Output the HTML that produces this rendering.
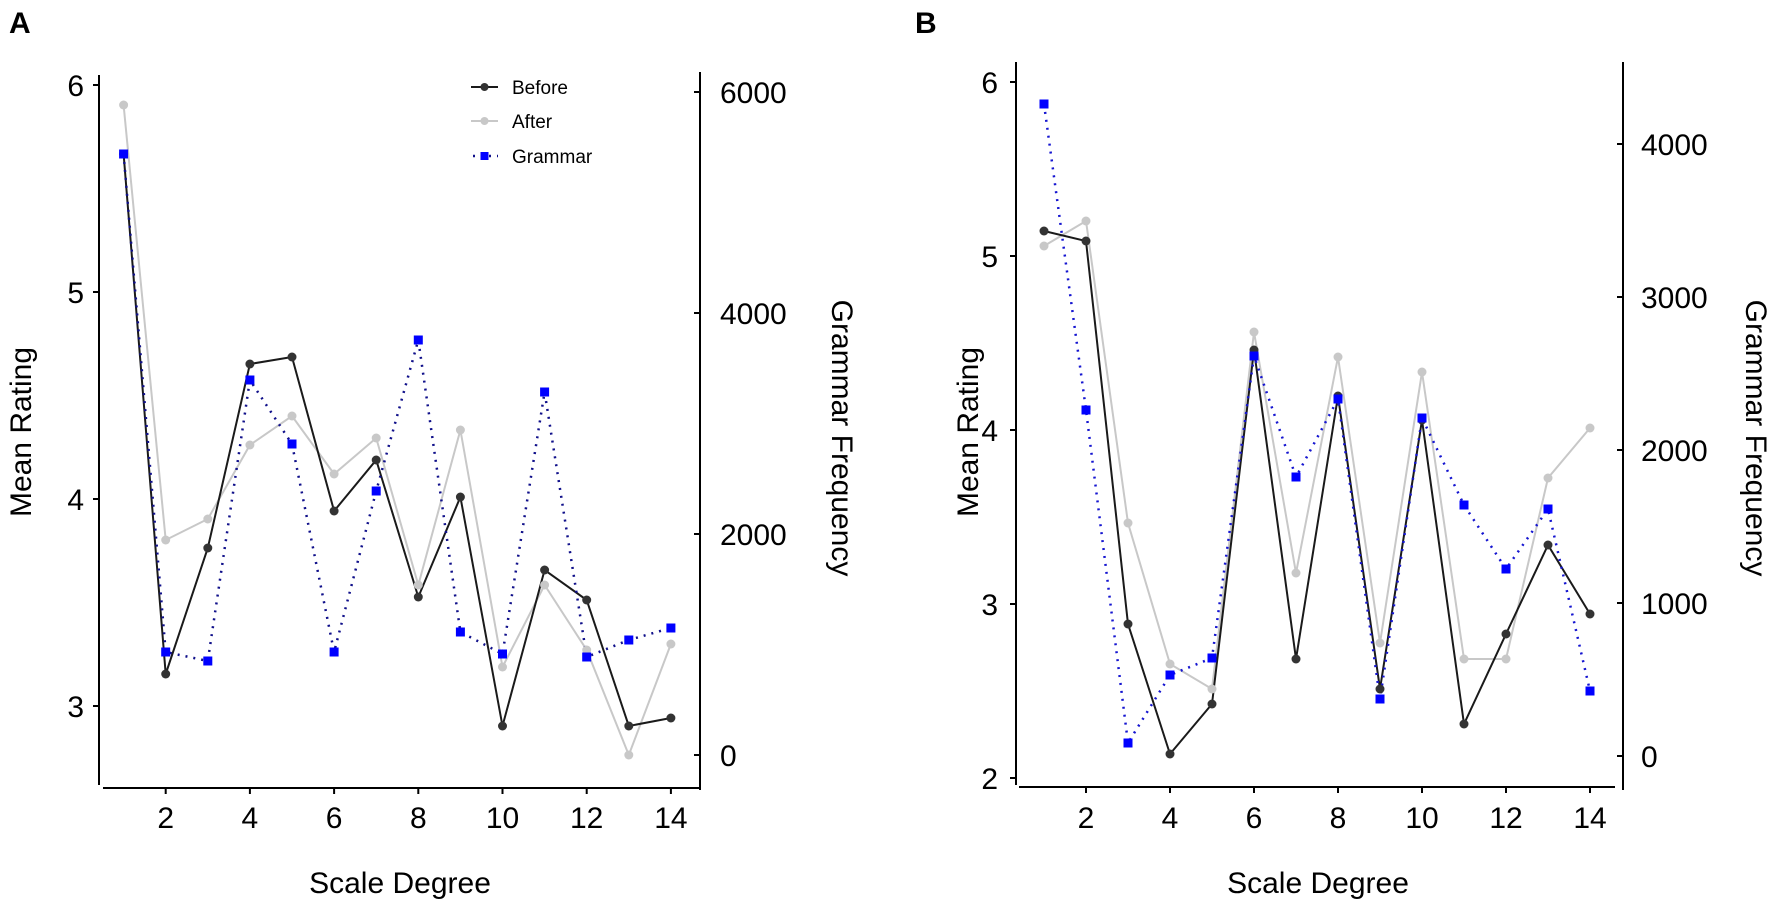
<!DOCTYPE html>
<html><head><meta charset="utf-8"><style>
html,body{margin:0;padding:0;background:#fff;}
svg{display:block;font-family:"Liberation Sans",Arial,sans-serif;}
</style></head><body>
<svg width="1771" height="907" viewBox="0 0 1771 907" xmlns="http://www.w3.org/2000/svg">
<!-- Panel letters -->
<text x="9" y="33" font-size="30" font-weight="bold">A</text>
<text x="915" y="33" font-size="30" font-weight="bold">B</text>

<!-- ===== Panel A axes ===== -->
<g stroke="#000" stroke-width="2" fill="none">
<line x1="99" y1="75" x2="99" y2="785"/>
<line x1="700" y1="72" x2="700" y2="790"/>
<line x1="103" y1="788" x2="700" y2="788"/>
<!-- left ticks -->
<line x1="93" y1="85" x2="99" y2="85"/><line x1="93" y1="292" x2="99" y2="292"/>
<line x1="93" y1="499" x2="99" y2="499"/><line x1="93" y1="706" x2="99" y2="706"/>
<!-- right ticks -->
<line x1="694" y1="92" x2="700" y2="92"/><line x1="694" y1="313" x2="700" y2="313"/>
<line x1="694" y1="534" x2="700" y2="534"/><line x1="694" y1="755" x2="700" y2="755"/>
<!-- x ticks -->
<line x1="165.7" y1="788" x2="165.7" y2="794"/><line x1="249.9" y1="788" x2="249.9" y2="794"/>
<line x1="334.1" y1="788" x2="334.1" y2="794"/><line x1="418.3" y1="788" x2="418.3" y2="794"/>
<line x1="502.5" y1="788" x2="502.5" y2="794"/><line x1="586.7" y1="788" x2="586.7" y2="794"/>
<line x1="670.9" y1="788" x2="670.9" y2="794"/>
</g>
<g font-size="30" fill="#000">
<text x="84" y="96" text-anchor="end">6</text><text x="84" y="303" text-anchor="end">5</text>
<text x="84" y="510" text-anchor="end">4</text><text x="84" y="717" text-anchor="end">3</text>
<text x="720" y="103">6000</text><text x="720" y="324">4000</text>
<text x="720" y="545">2000</text><text x="720" y="766">0</text>
<g text-anchor="middle">
<text x="165.7" y="828">2</text><text x="249.9" y="828">4</text><text x="334.1" y="828">6</text>
<text x="418.3" y="828">8</text><text x="502.5" y="828">10</text><text x="586.7" y="828">12</text>
<text x="670.9" y="828">14</text>
<text x="400" y="893">Scale Degree</text>
<text transform="translate(31,432) rotate(-90)">Mean Rating</text>
<text transform="translate(832,438) rotate(90)">Grammar Frequency</text>
</g>
</g>

<!-- Panel A series -->
<polyline fill="none" stroke="#c8c8c8" stroke-width="2" points="123.6,105 165.7,540 207.8,519 249.9,445 292,416 334.1,474 376.2,438 418.3,585 460.4,430 502.5,667 544.6,585 586.7,650 628.8,755 670.9,644"/>
<polyline fill="none" stroke="#1a1a1a" stroke-width="2" points="123.6,154 165.7,674 207.8,548 249.9,364 292,357 334.1,511 376.2,460 418.3,597 460.4,497 502.5,726 544.6,570 586.7,600 628.8,726 670.9,718"/>
<polyline fill="none" stroke="#10108a" stroke-width="2.5" stroke-dasharray="2 6" points="123.6,154 165.7,652 207.8,661 249.9,380 292,444 334.1,652 376.2,491 418.3,340 460.4,632 502.5,654 544.6,392 586.7,657 628.8,640 670.9,628"/>
<g fill="#c8c8c8">
<circle cx="123.6" cy="105" r="4.5"/><circle cx="165.7" cy="540" r="4.5"/><circle cx="207.8" cy="519" r="4.5"/><circle cx="249.9" cy="445" r="4.5"/><circle cx="292" cy="416" r="4.5"/><circle cx="334.1" cy="474" r="4.5"/><circle cx="376.2" cy="438" r="4.5"/><circle cx="418.3" cy="585" r="4.5"/><circle cx="460.4" cy="430" r="4.5"/><circle cx="502.5" cy="667" r="4.5"/><circle cx="544.6" cy="585" r="4.5"/><circle cx="586.7" cy="650" r="4.5"/><circle cx="628.8" cy="755" r="4.5"/><circle cx="670.9" cy="644" r="4.5"/>
</g>
<g fill="#333">
<circle cx="123.6" cy="154" r="4.5"/><circle cx="165.7" cy="674" r="4.5"/><circle cx="207.8" cy="548" r="4.5"/><circle cx="249.9" cy="364" r="4.5"/><circle cx="292" cy="357" r="4.5"/><circle cx="334.1" cy="511" r="4.5"/><circle cx="376.2" cy="460" r="4.5"/><circle cx="418.3" cy="597" r="4.5"/><circle cx="460.4" cy="497" r="4.5"/><circle cx="502.5" cy="726" r="4.5"/><circle cx="544.6" cy="570" r="4.5"/><circle cx="586.7" cy="600" r="4.5"/><circle cx="628.8" cy="726" r="4.5"/><circle cx="670.9" cy="718" r="4.5"/>
</g>
<g fill="#0000ff">
<rect x="119.1" y="149.5" width="9" height="9"/><rect x="161.2" y="647.5" width="9" height="9"/><rect x="203.3" y="656.5" width="9" height="9"/><rect x="245.4" y="375.5" width="9" height="9"/><rect x="287.5" y="439.5" width="9" height="9"/><rect x="329.6" y="647.5" width="9" height="9"/><rect x="371.7" y="486.5" width="9" height="9"/><rect x="413.8" y="335.5" width="9" height="9"/><rect x="455.9" y="627.5" width="9" height="9"/><rect x="498" y="649.5" width="9" height="9"/><rect x="540.1" y="387.5" width="9" height="9"/><rect x="582.2" y="652.5" width="9" height="9"/><rect x="624.3" y="635.5" width="9" height="9"/><rect x="666.4" y="623.5" width="9" height="9"/>
</g>

<!-- Legend -->
<g>
<line x1="471" y1="87" x2="498" y2="87" stroke="#1a1a1a" stroke-width="2"/><circle cx="484.5" cy="87" r="4" fill="#333"/>
<line x1="471" y1="121" x2="498" y2="121" stroke="#c8c8c8" stroke-width="2"/><circle cx="484.5" cy="121" r="4" fill="#c8c8c8"/>
<line x1="473" y1="156" x2="498" y2="156" stroke="#10108a" stroke-width="2.5" stroke-dasharray="2 6"/><rect x="480.5" y="152" width="8" height="8" fill="#0000ff"/>
<g font-size="19"><text x="512" y="94">Before</text><text x="512" y="128">After</text><text x="512" y="163">Grammar</text></g>
</g>

<!-- ===== Panel B axes ===== -->
<g stroke="#000" stroke-width="2" fill="none">
<line x1="1016" y1="62" x2="1016" y2="785"/>
<line x1="1623" y1="62" x2="1623" y2="790"/>
<line x1="1019" y1="787" x2="1615" y2="787"/>
<line x1="1010" y1="82" x2="1016" y2="82"/><line x1="1010" y1="256" x2="1016" y2="256"/>
<line x1="1010" y1="430" x2="1016" y2="430"/><line x1="1010" y1="604" x2="1016" y2="604"/>
<line x1="1010" y1="778" x2="1016" y2="778"/>
<line x1="1617" y1="144" x2="1623" y2="144"/><line x1="1617" y1="297" x2="1623" y2="297"/>
<line x1="1617" y1="450" x2="1623" y2="450"/><line x1="1617" y1="603" x2="1623" y2="603"/>
<line x1="1617" y1="756" x2="1623" y2="756"/>
<line x1="1086" y1="787" x2="1086" y2="793"/><line x1="1170" y1="787" x2="1170" y2="793"/>
<line x1="1254" y1="787" x2="1254" y2="793"/><line x1="1338" y1="787" x2="1338" y2="793"/>
<line x1="1422" y1="787" x2="1422" y2="793"/><line x1="1506" y1="787" x2="1506" y2="793"/>
<line x1="1590" y1="787" x2="1590" y2="793"/>
</g>
<g font-size="30" fill="#000">
<text x="998" y="93" text-anchor="end">6</text><text x="998" y="267" text-anchor="end">5</text>
<text x="998" y="441" text-anchor="end">4</text><text x="998" y="615" text-anchor="end">3</text>
<text x="998" y="789" text-anchor="end">2</text>
<text x="1641" y="155">4000</text><text x="1641" y="308">3000</text><text x="1641" y="461">2000</text>
<text x="1641" y="614">1000</text><text x="1641" y="767">0</text>
<g text-anchor="middle">
<text x="1086" y="828">2</text><text x="1170" y="828">4</text><text x="1254" y="828">6</text>
<text x="1338" y="828">8</text><text x="1422" y="828">10</text><text x="1506" y="828">12</text>
<text x="1590" y="828">14</text>
<text x="1318" y="893">Scale Degree</text>
<text transform="translate(978,432) rotate(-90)">Mean Rating</text>
<text transform="translate(1746,438) rotate(90)">Grammar Frequency</text>
</g>
</g>

<!-- Panel B series -->
<polyline fill="none" stroke="#c8c8c8" stroke-width="2" points="1044,246 1086,221 1128,523 1170,664 1212,689 1254,332 1296,573 1338,357 1380,643 1422,372 1464,659 1506,659 1548,478 1590,428"/>
<polyline fill="none" stroke="#1a1a1a" stroke-width="2" points="1044,231 1086,241 1128,624 1170,754 1212,704 1254,350 1296,659 1338,396 1380,689 1422,420 1464,724 1506,634 1548,545 1590,614"/>
<polyline fill="none" stroke="#1515d0" stroke-width="2.5" stroke-dasharray="2 6" points="1044,104 1086,410 1128,743 1170,675 1212,658 1254,356 1296,477 1338,399 1380,699 1422,418 1464,505 1506,569 1548,509 1590,691"/>
<g fill="#c8c8c8">
<circle cx="1044" cy="246" r="4.5"/><circle cx="1086" cy="221" r="4.5"/><circle cx="1128" cy="523" r="4.5"/><circle cx="1170" cy="664" r="4.5"/><circle cx="1212" cy="689" r="4.5"/><circle cx="1254" cy="332" r="4.5"/><circle cx="1296" cy="573" r="4.5"/><circle cx="1338" cy="357" r="4.5"/><circle cx="1380" cy="643" r="4.5"/><circle cx="1422" cy="372" r="4.5"/><circle cx="1464" cy="659" r="4.5"/><circle cx="1506" cy="659" r="4.5"/><circle cx="1548" cy="478" r="4.5"/><circle cx="1590" cy="428" r="4.5"/>
</g>
<g fill="#333">
<circle cx="1044" cy="231" r="4.5"/><circle cx="1086" cy="241" r="4.5"/><circle cx="1128" cy="624" r="4.5"/><circle cx="1170" cy="754" r="4.5"/><circle cx="1212" cy="704" r="4.5"/><circle cx="1254" cy="350" r="4.5"/><circle cx="1296" cy="659" r="4.5"/><circle cx="1338" cy="396" r="4.5"/><circle cx="1380" cy="689" r="4.5"/><circle cx="1422" cy="420" r="4.5"/><circle cx="1464" cy="724" r="4.5"/><circle cx="1506" cy="634" r="4.5"/><circle cx="1548" cy="545" r="4.5"/><circle cx="1590" cy="614" r="4.5"/>
</g>
<g fill="#0000ff">
<rect x="1039.5" y="99.5" width="9" height="9"/><rect x="1081.5" y="405.5" width="9" height="9"/><rect x="1123.5" y="738.5" width="9" height="9"/><rect x="1165.5" y="670.5" width="9" height="9"/><rect x="1207.5" y="653.5" width="9" height="9"/><rect x="1249.5" y="351.5" width="9" height="9"/><rect x="1291.5" y="472.5" width="9" height="9"/><rect x="1333.5" y="394.5" width="9" height="9"/><rect x="1375.5" y="694.5" width="9" height="9"/><rect x="1417.5" y="413.5" width="9" height="9"/><rect x="1459.5" y="500.5" width="9" height="9"/><rect x="1501.5" y="564.5" width="9" height="9"/><rect x="1543.5" y="504.5" width="9" height="9"/><rect x="1585.5" y="686.5" width="9" height="9"/>
</g>
</svg>
</body></html>
